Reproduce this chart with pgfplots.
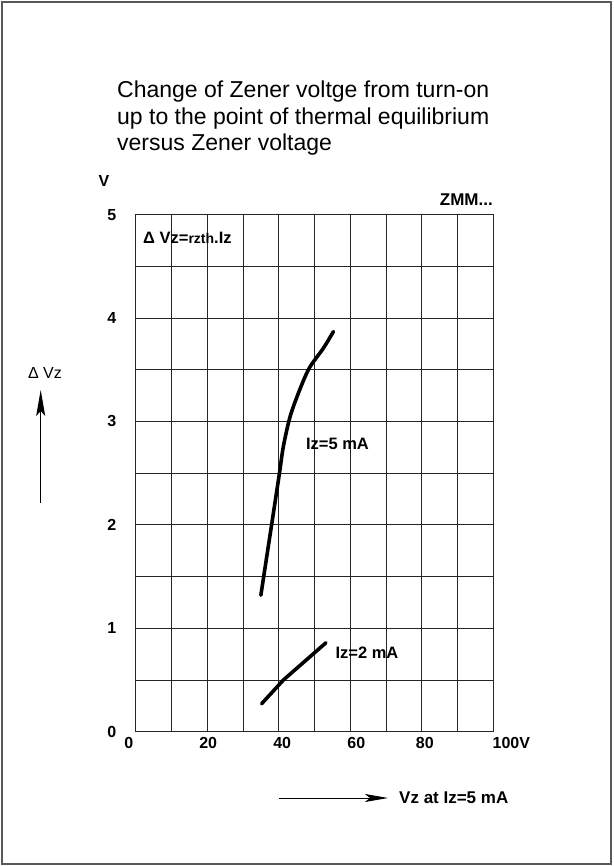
\documentclass[border=0pt]{standalone}
\usepackage{fontspec}
\setmainfont{Liberation Sans}
\usepackage{pgfplots}
\pgfplotsset{compat=1.18}
\usetikzlibrary{arrows.meta}
\newcommand{\sh}[2]{\makebox[0pt]{\hspace*{#1}#2}}
\begin{document}
\begin{tikzpicture}[x=1pt,y=1pt]
\useasboundingbox (0,0) rectangle (613,866);
\draw[line width=2pt, black!65] (2,2) rectangle (611,864);
\begin{axis}[
  at={(135.7pt,134.3pt)}, anchor=south west,
  scale only axis, width=357.6pt, height=517pt,
  xmin=0, xmax=100, ymin=0, ymax=5,
  xtick={0,10,...,100},
  xticklabels={\sh{-14pt}{0},,\sh{2pt}{20},,\sh{7pt}{40},,\sh{12pt}{60},,\sh{6pt}{80},,\sh{36pt}{100V}},
  ytick={0,0.5,1,1.5,2,2.5,3,3.5,4,4.5,5},
  yticklabels={0,,1,,2,,3,,4,,5},
  major tick length=0pt,
  grid=major,
  grid style={black!85, line width=0.9pt},
  axis line style={black!85, line width=1pt},
  xticklabel style={font=\bfseries\fontsize{16}{16}\selectfont, yshift=-2pt},
  yticklabel style={font=\bfseries\fontsize{16}{16}\selectfont, xshift=-16pt},
]
\addplot[black, line width=3.6pt, smooth, line cap=round] coordinates {
 (35.0,1.32) (38.0,2.00) (40.2,2.50) (41.3,2.76) (43.2,3.05) (45.9,3.31) (48.6,3.52) (52.5,3.71) (55.3,3.87)
};
\addplot[black, line width=3.6pt, line cap=round] coordinates {
 (35.2,0.27) (41.3,0.50) (53.2,0.86)
};
\end{axis}
% title
\node[anchor=base west, align=left, inner sep=0pt, font=\fontsize{23}{26.5}\selectfont] at (117,715)
 {Change of Zener voltge from turn-on\\up to the point of thermal equilibrium\\versus Zener voltage};
\node[font=\bfseries\fontsize{16}{16}\selectfont] at (104,685) {V};
\node[anchor=east, inner sep=0pt, font=\bfseries\fontsize{17}{17}\selectfont] at (493,666) {ZMM...};
\node[anchor=west, inner sep=0pt, font=\bfseries\fontsize{16.5}{16.5}\selectfont] at (143,628) {Δ Vz={\fontsize{14}{14}\selectfont rzth}.Iz};
\node[inner sep=0pt, font=\fontsize{16}{16}\selectfont] at (45,493) {Δ Vz};
\draw[line width=0.9pt, -{Stealth[length=26pt,width=9pt,inset=5pt]}] (40.7,363) -- (40.7,476);
\draw[line width=0.9pt, -{Stealth[length=23pt,width=8pt,inset=5pt]}] (279,68) -- (388,68);
\node[anchor=west, inner sep=0pt, font=\bfseries\fontsize{17}{17}\selectfont] at (399,68) {Vz at Iz=5 mA};
\node[font=\bfseries\fontsize{16.5}{16.5}\selectfont] at (337.5,422) {Iz=5 mA};
\node[font=\bfseries\fontsize{16.5}{16.5}\selectfont] at (367,213) {Iz=2 mA};
\end{tikzpicture}
\end{document}
